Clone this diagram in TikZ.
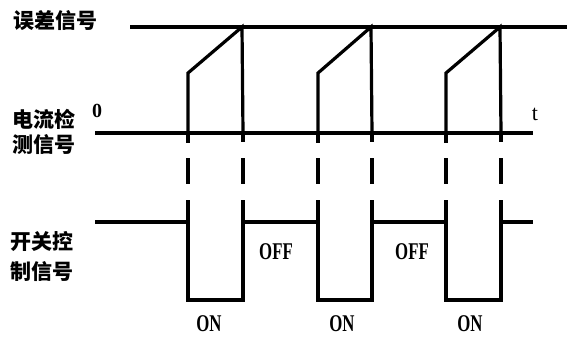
\documentclass[tikz,border=0pt]{standalone}
\usepackage{fontspec}
\setmainfont{Liberation Serif}
\newfontfamily\cjk{Noto Sans CJK SC}
\begin{document}
\begin{tikzpicture}[x=1pt,y=-1pt,
  wave/.style={line width=3.2pt,line join=miter},
  tick/.style={line width=3.2pt},
  cnlabel/.style={font=\cjk\bfseries\fontsize{21}{21}\selectfont,inner sep=0pt},
  statelabel/.style={font=\bfseries\fontsize{24}{24}\selectfont,inner sep=0pt},
  axislabel/.style={font=\bfseries\fontsize{20}{20}\selectfont,inner sep=0pt}]
\useasboundingbox (0,0) rectangle (567,338);
% labels
\node[cnlabel] (err) at (55,21) {误差信号};
\node[cnlabel] (cur1) at (44,119) {电流检};
\node[cnlabel] (cur2) at (44,145) {测信号};
\node[cnlabel] (sw1) at (42,242) {开关控};
\node[cnlabel] (sw2) at (42,272) {制信号};
\node[axislabel] (zero) at (97,111) {0};
\node[inner sep=0pt,font=\fontsize{22}{22}\selectfont] (t) at (535,114) {t};
% error signal level
\draw[wave] (130,27) -- (567,27);
% current axis
\draw[wave] (95,133) -- (533,133);
% current ramps
\foreach \a/\b in {188/243, 318/372, 446/501}{
  \draw[wave] (\a,133) -- (\a,73) -- (\b-1,27) -- (\b,133);
  \draw[tick] (\a,133) -- (\a,143) (\b,133) -- (\b,142);
  \draw[tick] (\a,158) -- (\a,184) (\b,158) -- (\b,184);
}
% switch control signal
\draw[wave] (95,222) -- (188,222) (188,200) -- (188,300) -- (243,300) -- (243,200)
  (243,222) -- (318,222) (318,200) -- (318,300) -- (372,300) -- (372,200)
  (372,222) -- (446,222) (446,200) -- (446,300) -- (501,300) -- (501,200)
  (501,222) -- (533,222);
% state labels
\node[statelabel] (off1) at (276,252) {\scalebox{0.7}[1]{OFF}};
\node[statelabel] (off2) at (412,252) {\scalebox{0.7}[1]{OFF}};
\node[statelabel] (on1) at (209,324) {\scalebox{0.7}[1]{ON}};
\node[statelabel] (on2) at (342,324) {\scalebox{0.7}[1]{ON}};
\node[statelabel] (on3) at (470,324) {\scalebox{0.7}[1]{ON}};
\end{tikzpicture}
\end{document}
